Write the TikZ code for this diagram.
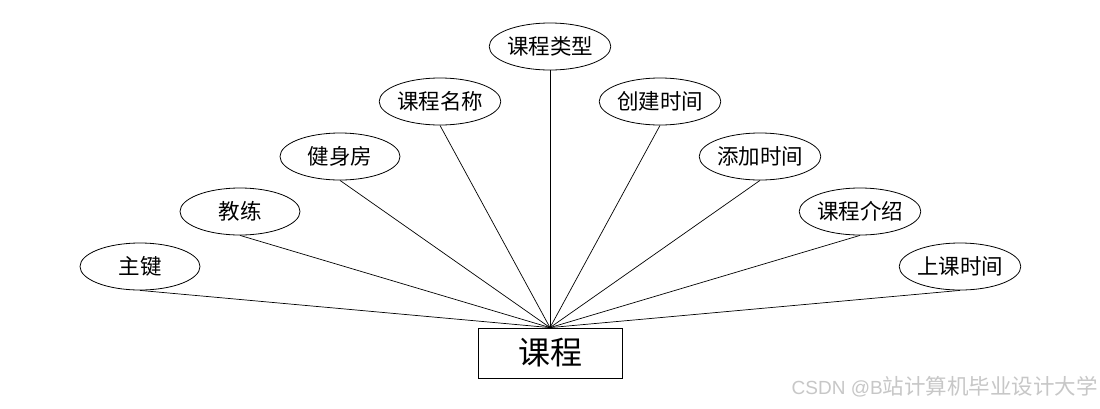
\documentclass[tikz,border=0pt]{standalone}
\usepackage{fontspec}
\setmainfont{Noto Sans CJK SC}
\newfontfamily\wmlatin{Liberation Sans}
\usetikzlibrary{shapes.geometric}
\tikzset{
  attr/.style={draw, ellipse, minimum width=120pt, minimum height=47pt, inner sep=0pt, line width=0.8pt, font=\fontsize{21.5}{21.5}\selectfont},
  entity/.style={draw, rectangle, minimum width=144pt, minimum height=50pt, inner sep=0pt, line width=0.8pt, font=\fontsize{32}{32}\selectfont},
  link/.style={line width=0.7pt}
}
\begin{document}
\begin{tikzpicture}[x=1pt,y=-1pt]
\useasboundingbox (0,0) rectangle (1100,408);
\fill[white] (0,0) rectangle (1100,408);
\node[entity] (box) at (550,353) {课程};
\node[attr] (e1) at (140,266.5) {主键};
\node[attr] (e2) at (240,211.5) {教练};
\node[attr] (e3) at (340,156.5) {健身房};
\node[attr] (e4) at (440,101.5) {课程名称};
\node[attr] (e5) at (550,46.5) {课程类型};
\node[attr] (e6) at (660,101.5) {创建时间};
\node[attr] (e7) at (760,156.5) {添加时间};
\node[attr] (e8) at (860,211.5) {课程介绍};
\node[attr] (e9) at (960,266.5) {上课时间};
\foreach \i in {1,...,9} {\draw[link] (e\i.south) -- (box.north);}
\node[anchor=east, text=black!22, font=\fontsize{21.5}{21.5}\selectfont, inner sep=0pt] (wm) at (1098,387) {{\wmlatin\fontsize{19}{19}\selectfont CSDN @B}站计算机毕业设计大学};
\end{tikzpicture}
\end{document}
